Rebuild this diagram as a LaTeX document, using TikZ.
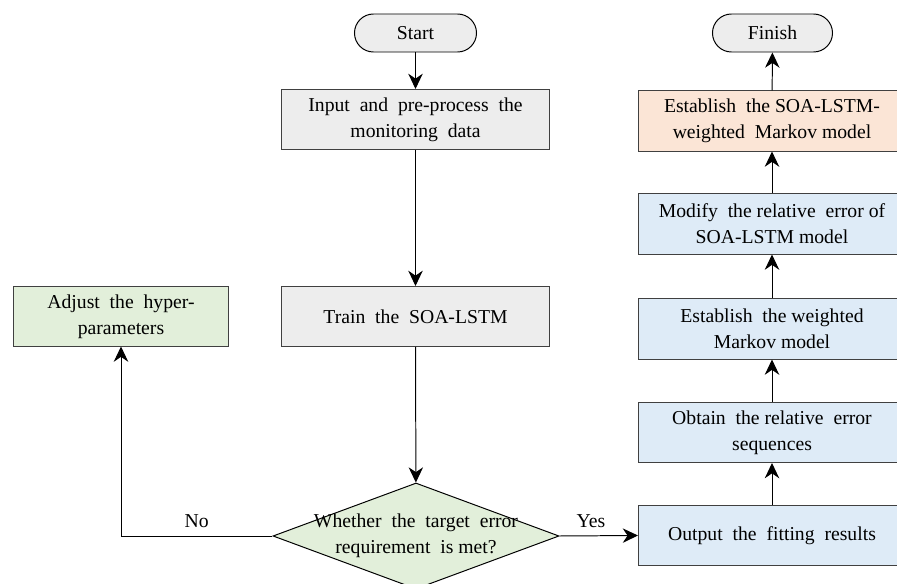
\documentclass[tikz,border=0pt]{standalone}
\usepackage{fontspec}
\setmainfont{Liberation Serif}
\usepackage{xcolor}
\usepackage{tikz}
\usetikzlibrary{arrows.meta, shapes.geometric, positioning}

\definecolor{boxgray}{HTML}{EDEDED}
\definecolor{boxgreen}{HTML}{E2EFDA}
\definecolor{boxblue}{HTML}{DEEBF7}
\definecolor{boxorange}{HTML}{FBE5D6}
\definecolor{edgegray}{HTML}{404040}

\begin{document}
\begin{tikzpicture}[x=0.025cm, y=-0.025cm, >={Stealth[length=0.38cm, width=0.36cm, inset=0.12cm]},
    font=\fontsize{14}{18.5}\selectfont, line width=0.7pt,
    terminal/.style={draw=black, fill=boxgray, rounded corners=0.475cm, minimum width=3.05cm, minimum height=0.95cm, inner sep=0pt},
    process/.style={draw=edgegray, align=center, minimum width=6.675cm, minimum height=1.5cm, inner sep=0pt},
    decision/.style={draw=black, fill=boxgreen, diamond, aspect=2.7, minimum width=7.15cm, minimum height=2.65cm, inner sep=0pt}]
        \useasboundingbox (0,0) rectangle (897,584);
        % left branch
        \node[terminal] (start) at (415.5,33) {Start};
        \node[process, fill=boxgray] (input) at (415.5,119.5) {Input\ \ and\ \ pre-process\ \ the\\monitoring\ \ data};
        \node[process, fill=boxgray] (train) at (415.5,316.5) {Train\ \ the\ \ SOA-LSTM};
        \node[process, fill=boxgreen, minimum width=5.35cm, minimum height=1.475cm] (adjust) at (121,316.5) {Adjust\ \ the\ \ hyper-\\parameters};
        \node[decision] (check) at (416,536) {};
        \node[align=center, inner sep=0pt] (checktext) at (check.center) {Whether\ \ the\ \ target\ \ error\\requirement\ \ is met?};
        % right branch
        \node[process, fill=boxblue] (output) at (772,535.5) {Output\ \ the\ \ fitting\ \ results};
        \node[process, fill=boxblue] (obtain) at (772,432.5) {Obtain\ \ the relative\ \ error\\sequences};
        \node[process, fill=boxblue] (weighted) at (772,329) {Establish\ \ the weighted\\Markov model};
        \node[process, fill=boxblue] (modify) at (772,224) {Modify\ \ the relative\ \ error of\\SOA-LSTM model};
        \node[process, fill=boxorange] (final) at (772,121) {Establish\ \ the SOA-LSTM-\\weighted\ \ Markov model};
        \node[terminal, minimum width=3.0cm] (finish) at (772.5,33) {Finish};

        \draw[->] (start) -- (input);
        \draw[->] (input) -- (train);
        \draw[->] (train) -- (check);
        \draw[->] (check.west) -| node[pos=0.25, above=2pt]{No} (adjust.south);
        \draw[->] (check.east) -- node[above=2pt, pos=0.4]{Yes} (output.west);
        \draw[->] (output) -- (obtain);
        \draw[->] (obtain) -- (weighted);
        \draw[->] (weighted) -- (modify);
        \draw[->] (modify) -- (final);
        \draw[->] (final) -- (finish);
      \end{tikzpicture}
\end{document}
